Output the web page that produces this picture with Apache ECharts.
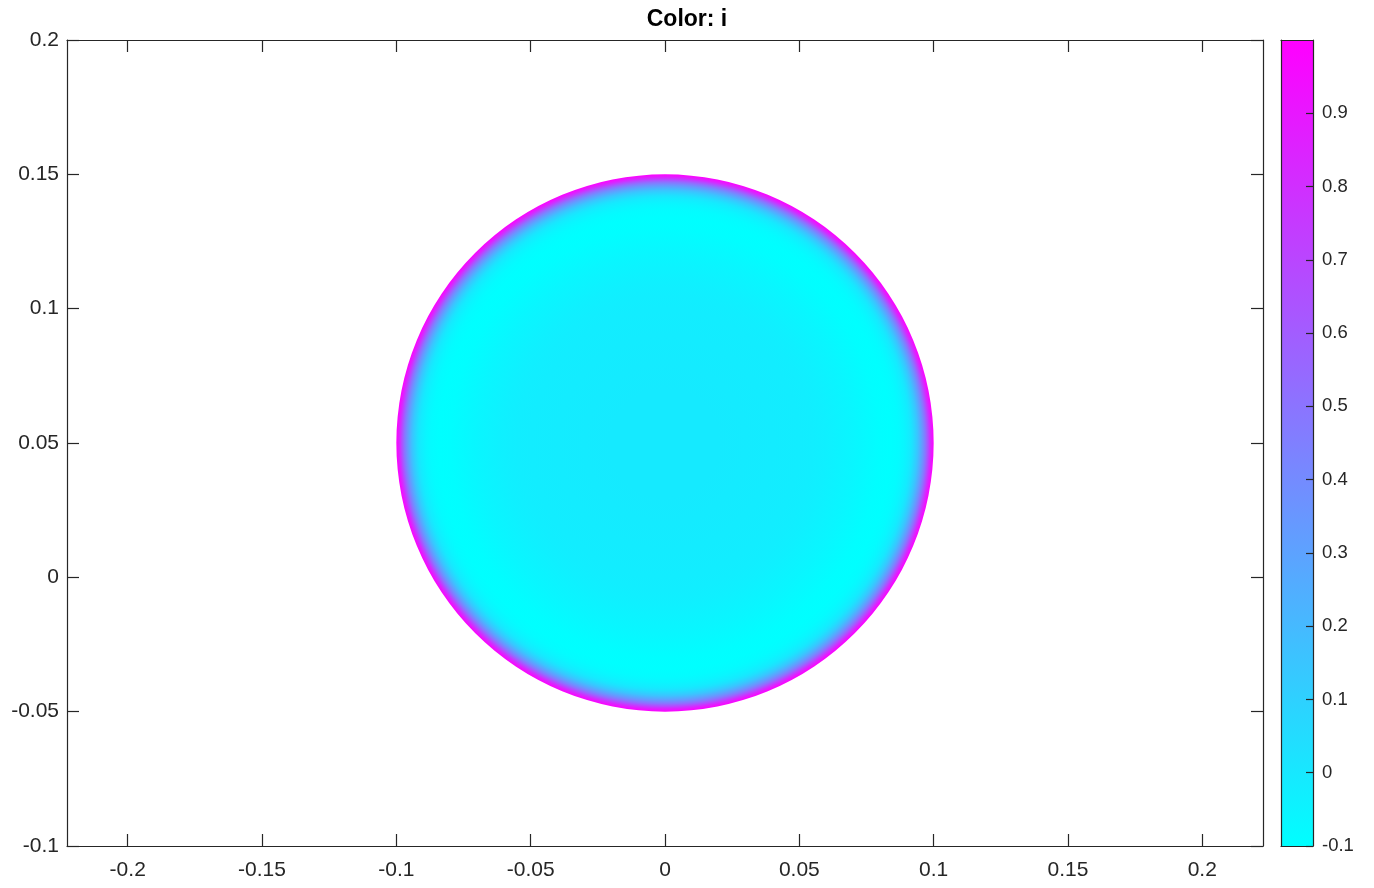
<!DOCTYPE html>
<html>
<head>
<meta charset="utf-8">
<script src="https://cdn.jsdelivr.net/npm/echarts@6/dist/echarts.min.js"></script>
<style>
html,body{margin:0;padding:0;background:#fff;}
#chart{width:1374px;height:888px;}
</style>
</head>
<body>
<div id="chart"></div>
<script>
// ---- data ----
const titleText = 'Color: i';
const xTicks = [-0.2, -0.15, -0.1, -0.05, 0, 0.05, 0.1, 0.15, 0.2];
const yTicks = [-0.1, -0.05, 0, 0.05, 0.1, 0.15, 0.2];
const cbTicks = [-0.1, 0, 0.1, 0.2, 0.3, 0.4, 0.5, 0.6, 0.7, 0.8, 0.9];
const xRange = [-0.2226, 0.2226];
const yRange = [-0.1, 0.2];
const cRange = [-0.1, 1.0];
const discCenter = [0, 0.05];
// radial profile of colour value i across the disc (radius -> value)
const radii  = [0, 0.01, 0.02, 0.03, 0.04, 0.05, 0.055, 0.06, 0.065, 0.07, 0.075, 0.08, 0.084, 0.087, 0.089, 0.091, 0.092, 0.093, 0.094, 0.095, 0.096, 0.097, 0.098, 0.0985, 0.099, 0.0995, 0.1];
const values = [-0.008, -0.009, -0.011, -0.013, -0.016, -0.022, -0.027, -0.035, -0.047, -0.062, -0.08, -0.095, -0.098, -0.085, -0.06, -0.02, 0.02, 0.08, 0.15, 0.25, 0.36, 0.5, 0.68, 0.78, 0.86, 0.93, 0.99];

// cool colormap
function cool(v) {
  let t = (v - cRange[0]) / (cRange[1] - cRange[0]);
  t = Math.max(0, Math.min(1, t));
  const r = Math.round(255 * t), g = Math.round(255 * (1 - t));
  return 'rgb(' + r + ',' + g + ',255)';
}

// disc rings: outer first so inner circles paint over
const ringData = [];
for (let k = radii.length - 1; k >= 1; k--) {
  ringData.push([radii[k - 1], radii[k], values[k - 1], values[k]]);
}
const cbData = [[0, cRange[0], 1, cRange[1]]];

const ink = '#262626';
const fmt = v => String(parseFloat(Number(v).toFixed(4)));
const font = "'Liberation Sans', Arial, Helvetica, sans-serif";

function axisCommon(extra) {
  return Object.assign({
    type: 'value',
    axisLine: { show: true, onZero: false, lineStyle: { color: ink, width: 1.2 } },
    splitLine: { show: false },
    z: 5
  }, extra);
}

const chart = echarts.init(document.getElementById('chart'), null, { renderer: 'canvas' });
chart.setOption({
  animation: false,
  backgroundColor: '#fff',
  title: {
    text: titleText, left: 'center', top: 8, padding: 0,
    textStyle: { fontFamily: font, fontSize: 23, fontWeight: 'bold', color: '#000' }
  },
  grid: [
    { left: 67, top: 40, width: 1196, height: 806 },
    { left: 1281, top: 40, width: 32, height: 806 }
  ],
  xAxis: [
    axisCommon({ gridIndex: 0, position: 'bottom', min: xRange[0], max: xRange[1],
      axisTick: { show: true, inside: true, length: 12, customValues: xTicks, lineStyle: { color: ink, width: 1.2 } },
      axisLabel: { show: true, customValues: xTicks, formatter: fmt, margin: 14, color: ink, fontSize: 21, fontFamily: font } }),
    axisCommon({ gridIndex: 0, position: 'top', min: xRange[0], max: xRange[1],
      axisTick: { show: true, inside: true, length: 12, customValues: xTicks, lineStyle: { color: ink, width: 1.2 } },
      axisLabel: { show: false } }),
    axisCommon({ gridIndex: 1, position: 'bottom', min: 0, max: 1,
      axisTick: { show: false }, axisLabel: { show: false } }),
    axisCommon({ gridIndex: 1, position: 'top', min: 0, max: 1,
      axisTick: { show: false }, axisLabel: { show: false } })
  ],
  yAxis: [
    axisCommon({ gridIndex: 0, position: 'left', min: yRange[0], max: yRange[1],
      axisTick: { show: true, inside: true, length: 12, customValues: yTicks, lineStyle: { color: ink, width: 1.2 } },
      axisLabel: { show: true, customValues: yTicks, formatter: fmt, margin: 8, color: ink, fontSize: 21, fontFamily: font } }),
    axisCommon({ gridIndex: 0, position: 'right', min: yRange[0], max: yRange[1],
      axisTick: { show: true, inside: true, length: 12, customValues: yTicks, lineStyle: { color: ink, width: 1.2 } },
      axisLabel: { show: false } }),
    axisCommon({ gridIndex: 1, position: 'right', min: cRange[0], max: cRange[1],
      axisTick: { show: true, inside: true, length: 7, customValues: cbTicks, lineStyle: { color: ink, width: 1.2 } },
      axisLabel: { show: true, customValues: cbTicks, formatter: fmt, margin: 9, color: ink, fontSize: 18.5, fontFamily: font } }),
    axisCommon({ gridIndex: 1, position: 'left', min: cRange[0], max: cRange[1],
      axisTick: { show: false }, axisLabel: { show: false } })
  ],
  series: [
    {
      type: 'custom', xAxisIndex: 0, yAxisIndex: 0, z: 2,
      data: ringData,
      renderItem: function (params, api) {
        const rIn = api.value(0), rOut = api.value(1), vIn = api.value(2), vOut = api.value(3);
        const c = api.coord(discCenter);
        const sx = api.size([rOut, 0])[0], sy = api.size([0, rOut])[1];
        const r = (sx + sy) / 2;
        const f = rIn / rOut;
        return {
          type: 'circle',
          shape: { cx: c[0], cy: c[1], r: r },
          style: {
            fill: { type: 'radial', x: 0.5, y: 0.5, r: 0.5, global: false,
              colorStops: [ { offset: 0, color: cool(vIn) }, { offset: f, color: cool(vIn) }, { offset: 1, color: cool(vOut) } ] },
            stroke: null
          }
        };
      }
    },
    {
      type: 'custom', xAxisIndex: 2, yAxisIndex: 2, z: 2,
      data: cbData,
      renderItem: function (params, api) {
        const p0 = api.coord([api.value(0), api.value(1)]);
        const p1 = api.coord([api.value(2), api.value(3)]);
        return {
          type: 'rect',
          shape: { x: p0[0], y: p1[1], width: p1[0] - p0[0], height: p0[1] - p1[1] },
          style: {
            fill: { type: 'linear', x: 0, y: 1, x2: 0, y2: 0, global: false,
              colorStops: [ { offset: 0, color: cool(api.value(1)) }, { offset: 1, color: cool(api.value(3)) } ] }
          }
        };
      }
    }
  ]
});
</script>
</body>
</html>
